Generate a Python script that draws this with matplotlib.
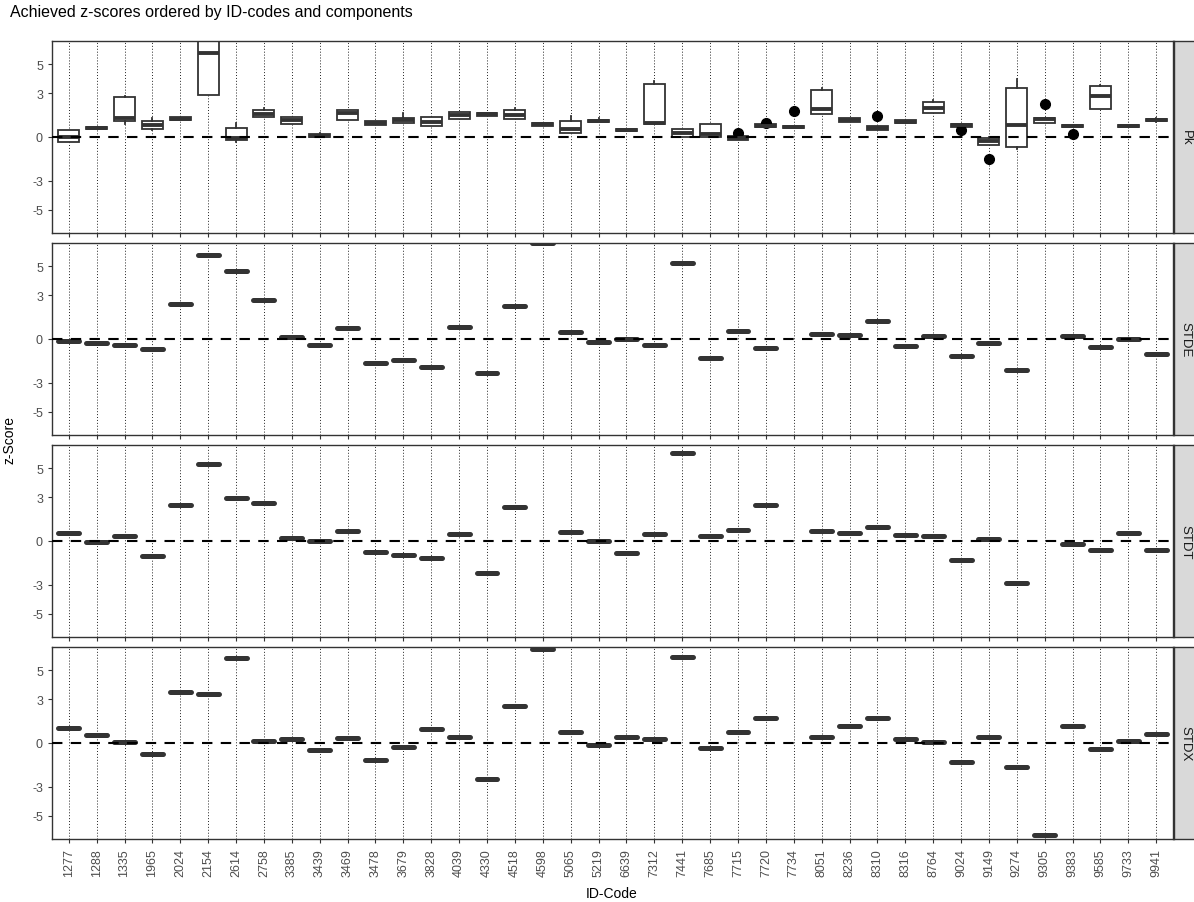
import numpy as np
import matplotlib
matplotlib.use("Agg")
import matplotlib.pyplot as plt

plt.rcParams['font.family'] = ['Liberation Sans', 'DejaVu Sans']

codes = ["1277", "1288", "1335", "1965", "2024", "2154", "2614", "2758", "3385", "3439",
         "3469", "3478", "3679", "3828", "4039", "4330", "4518", "4598", "5065", "5219",
         "6639", "7312", "7441", "7685", "7715", "7720", "7734", "8051", "8236", "8310",
         "8316", "8764", "9024", "9149", "9274", "9305", "9383", "9585", "9733", "9941"]

# Pk component: box statistics per ID-code
pk_q1 = [-0.35, 0.55, 1.10, 0.55, 1.15, 2.90, -0.18, 1.35, 0.88, 0.00,
         1.20, 0.85, 0.95, 0.76, 1.24, 1.45, 1.24, 0.78, 0.26, 1.00,
         0.40, 0.92, 0.02, 0.00, -0.18, 0.66, 0.62, 1.57, 1.05, 0.50,
         0.95, 1.66, 0.72, -0.57, -0.66, 0.93, 0.68, 1.93, 0.68, 1.10]
pk_med = [0.00, 0.65, 1.30, 0.80, 1.25, 5.80, -0.05, 1.60, 1.20, 0.08,
          1.65, 0.98, 1.20, 1.05, 1.52, 1.55, 1.52, 0.86, 0.52, 1.10,
          0.48, 0.98, 0.25, 0.20, -0.05, 0.77, 0.70, 1.90, 1.18, 0.64,
          1.05, 2.02, 0.82, -0.30, 0.80, 1.23, 0.75, 2.80, 0.75, 1.18]
pk_q3 = [0.50, 0.72, 2.75, 1.08, 1.35, 7.50, 0.62, 1.85, 1.40, 0.18,
         1.85, 1.10, 1.33, 1.35, 1.70, 1.65, 1.88, 0.95, 1.13, 1.20,
         0.56, 3.66, 0.55, 0.90, 0.10, 0.88, 0.78, 3.20, 1.30, 0.76,
         1.15, 2.40, 0.90, -0.07, 3.34, 1.33, 0.82, 3.48, 0.82, 1.25]
pk_lo = [-0.35, 0.55, 0.90, 0.50, 1.15, 2.90, -0.34, 1.35, 0.88, 0.00,
         1.20, 0.85, 0.95, 0.76, 1.24, 1.45, 1.24, 0.78, 0.26, 1.00,
         0.40, 0.92, 0.02, 0.00, -0.18, 0.66, 0.62, 1.57, 1.05, 0.50,
         0.95, 1.66, 0.72, -0.57, -0.84, 0.93, 0.68, 1.93, 0.68, 1.05]
pk_hi = [0.50, 0.72, 2.85, 1.30, 1.35, 8.50, 0.95, 1.98, 1.40, 0.30,
         1.85, 1.10, 1.62, 1.35, 1.70, 1.65, 2.00, 0.95, 1.42, 1.30,
         0.56, 3.85, 0.55, 0.90, 0.10, 0.88, 0.78, 3.35, 1.30, 0.76,
         1.15, 2.57, 0.90, 0.00, 3.98, 1.33, 0.82, 3.60, 0.82, 1.28]
pk_out = [[], [], [], [], [], [], [], [], [], [],
          [], [], [], [], [], [], [], [], [], [],
          [], [], [], [], [0.3], [0.95], [1.77], [], [], [1.41],
          [], [], [0.5], [-1.48], [], [2.3], [0.2], [], [], []]

# single-value components (None = no result)
stde = [-0.16, -0.27, -0.41, -0.68, 2.41, 5.77, 4.68, 2.68, 0.11, -0.41,
        0.73, -1.64, -1.41, -1.91, 0.80, -2.36, 2.30, 6.57, 0.50, -0.20,
        -0.02, -0.41, 5.23, -1.32, 0.55, -0.61, None, 0.32, 0.27, 1.27,
        -0.45, 0.23, -1.20, -0.30, -2.14, None, 0.20, -0.55, 0.00, -1.02]
stdt = [0.52, -0.05, 0.32, -1.05, 2.45, 5.32, 2.98, 2.64, 0.23, 0.00,
        0.68, -0.75, -0.93, -1.18, 0.48, -2.20, 2.36, None, 0.61, 0.03,
        -0.80, 0.50, 6.07, 0.34, 0.75, 2.45, None, 0.70, 0.57, 0.98,
        0.41, 0.34, -1.30, 0.14, -2.86, None, -0.20, -0.64, 0.52, -0.61]
stdx = [1.00, 0.57, 0.07, -0.75, 3.52, 3.34, 5.82, 0.11, 0.30, -0.50,
        0.32, -1.20, -0.30, 0.98, 0.39, -2.48, 2.52, 6.48, 0.75, -0.12,
        0.41, 0.27, 5.93, -0.34, 0.75, 1.70, None, 0.41, 1.20, 1.75,
        0.30, 0.05, -1.32, 0.43, -1.64, -6.32, 1.18, -0.41, 0.14, 0.64]

components = ["Pk", "STDE", "STDT", "STDX"]
yticks = [-5, -3, 0, 3, 5]

W, H = 1194, 903
fig = plt.figure(figsize=(W / 100, H / 100), dpi=100)
fig.patch.set_facecolor("white")

left_px, right_px = 52, 1173
panel_h = 192
tops = [42, 244, 446, 648]
n = len(codes)
pos = np.arange(n)
dark = "#333333"

box_kw = dict(widths=0.75, patch_artist=True, manage_ticks=False,
              boxprops=dict(facecolor="white", edgecolor=dark, linewidth=1.3),
              whiskerprops=dict(color=dark, linewidth=1.3),
              capprops=dict(linewidth=0),
              medianprops=dict(color=dark, linewidth=2.8, solid_capstyle="butt"),
              flierprops=dict(marker="o", markerfacecolor="black", markeredgecolor="black",
                              markersize=7))

for i, comp in enumerate(components):
    bottom = 1 - (tops[i] + panel_h) / H
    ax = fig.add_axes([left_px / W, bottom, (right_px - left_px) / W, panel_h / H])
    ax.set_xlim(-0.6, n - 0.4)
    ax.set_ylim(-6.6, 6.6)
    for x in pos:
        ax.axvline(x, color="#222222", linestyle=(0, (1, 2)), linewidth=0.7, zorder=0)
    ax.axhline(0, color="black", linestyle=(0, (5, 4)), linewidth=1.5, zorder=3)

    if comp == "Pk":
        stats = []
        for k in range(n):
            stats.append(dict(q1=pk_q1[k], med=pk_med[k], q3=pk_q3[k],
                              whislo=pk_lo[k], whishi=pk_hi[k], fliers=pk_out[k]))
        ax.bxp(stats, positions=pos, **box_kw)
    else:
        vals = {"STDE": stde, "STDT": stdt, "STDX": stdx}[comp]
        stats, ps = [], []
        for k, v in enumerate(vals):
            if v is None:
                continue
            stats.append(dict(q1=v, med=v, q3=v, whislo=v, whishi=v, fliers=[]))
            ps.append(pos[k])
        kw = dict(box_kw)
        kw["medianprops"] = dict(color=dark, linewidth=3.6, solid_capstyle="round")
        ax.bxp(stats, positions=ps, **kw)

    ax.set_yticks(yticks)
    ax.set_yticklabels([str(t) for t in yticks])
    ax.set_xticks(pos)
    if i == len(components) - 1:
        ax.set_xticklabels(codes, rotation=90)
    else:
        ax.set_xticklabels([])
        ax.tick_params(axis="x", length=0)
    ax.tick_params(colors="#333333", labelcolor="#4D4D4D", labelsize=9, length=3, width=0.8)
    for s in ax.spines.values():
        s.set_edgecolor("#333333")
        s.set_linewidth(1.0)

    # facet strip
    sax = fig.add_axes([1174 / W, bottom, 26 / W, panel_h / H])
    sax.set_facecolor("#D9D9D9")
    sax.set_xticks([])
    sax.set_yticks([])
    for s in sax.spines.values():
        s.set_edgecolor("#333333")
        s.set_linewidth(1.0)
    sax.text(0.45, 0.5, comp, rotation=-90, ha="center", va="center",
             transform=sax.transAxes, fontsize=9.5, color="#1A1A1A")

fig.text(10 / W, 1 - 13 / H, "Achieved z-scores ordered by ID-codes and components",
         ha="left", va="center", fontsize=11.5, color="black")
fig.text(10 / W, 1 - 440 / H, "z-Score", rotation=90, ha="center", va="center",
         fontsize=10, color="black")
fig.text(612 / W, 1 - 894 / H, "ID-Code", ha="center", va="center",
         fontsize=10, color="black")

fig.savefig("out.png", dpi=100, facecolor="white")
